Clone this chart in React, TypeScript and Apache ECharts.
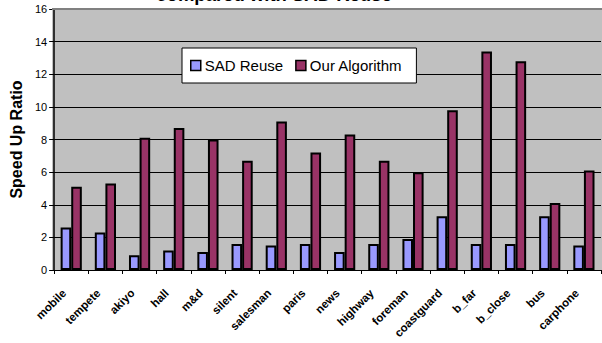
import React, { useEffect, useRef } from "react";
import * as echarts from "echarts";

const categories = [
  "mobile", "tempete", "akiyo", "hall", "m&d", "silent", "salesman", "paris",
  "news", "highway", "foreman", "coastguard", "b_far", "b_close", "bus", "carphone",
];
const sadReuse = [2.6, 2.3, 0.9, 1.2, 1.1, 1.6, 1.5, 1.6, 1.1, 1.6, 1.9, 3.3, 1.6, 1.6, 3.3, 1.5];
const ourAlgorithm = [5.1, 5.3, 8.1, 8.7, 8.0, 6.7, 9.1, 7.2, 8.3, 6.7, 6.0, 9.8, 13.4, 12.8, 4.1, 6.1];
const seriesNames = ["SAD Reuse", "Our Algorithm"];
const titleText = "compared with SAD Reuse";
const yAxisTitle = "Speed Up Ratio";

const FONT = "Arial, 'Liberation Sans', sans-serif";

export default function App() {
  const ref = useRef<HTMLDivElement>(null);

  useEffect(() => {
    document.body.style.margin = "0";
    if (!ref.current) return;
    const chart = echarts.init(ref.current, null, { renderer: "svg" });
    chart.setOption({
      animation: false,
      backgroundColor: "#ffffff",
      grid: { left: 52, right: 1, top: 9, bottom: 73, containLabel: false },
      legend: {
        data: seriesNames,
        left: 182,
        top: 48,
        orient: "horizontal",
        backgroundColor: "#ffffff",
        borderColor: "#000000",
        borderWidth: 1,
        borderRadius: 0,
        padding: [10, 14, 10, 8],
        itemGap: 12,
        itemWidth: 10,
        itemHeight: 10,
        icon: "rect",
        itemStyle: { borderColor: "#000000", borderWidth: 1.5 },
        textStyle: { fontFamily: FONT, fontSize: 15, color: "#000000", padding: [0, 0, 0, -1] },
      },
      xAxis: {
        type: "category",
        data: categories,
        boundaryGap: true,
        axisLine: { show: true, lineStyle: { color: "#000000", width: 1 } },
        axisTick: { show: true, alignWithLabel: false, length: 4, lineStyle: { color: "#000000" } },
        axisLabel: {
          interval: 0,
          rotate: 45,
          margin: 14,
          padding: [0, 10, 0, 0],
          fontFamily: FONT,
          fontSize: 11.5,
          fontWeight: "bold",
          color: "#000000",
        },
        splitLine: { show: false },
      },
      yAxis: {
        type: "value",
        min: 0,
        max: 16,
        interval: 2,
        name: yAxisTitle,
        nameLocation: "middle",
        nameRotate: 90,
        nameGap: 30,
        nameTextStyle: { fontFamily: FONT, fontSize: 16, fontWeight: "bold", color: "#000000" },
        axisLine: { show: true, lineStyle: { color: "#000000", width: 1.5 } },
        axisTick: { show: true, inside: false, length: 5, lineStyle: { color: "#000000" } },
        axisLabel: { fontFamily: FONT, fontSize: 11, color: "#000000", margin: 7 },
        splitLine: { show: true, lineStyle: { color: "#000000", width: 1 } },
      },
      graphic: [
        {
          type: "rect",
          z: -10,
          shape: { x: 52, y: 9, width: 550, height: 261 },
          style: { fill: "#c0c0c0" },
          silent: true,
        },
        {
          type: "line",
          z: 10,
          shape: { x1: 52, y1: 9, x2: 602, y2: 9 },
          style: { stroke: "#808080", lineWidth: 2 },
          silent: true,
        },
        {
          type: "text",
          x: 274,
          y: 4,
          style: {
            text: titleText,
            fontFamily: FONT,
            fontSize: 18.5,
            fontWeight: "bold",
            fill: "#000000",
            align: "center",
            verticalAlign: "bottom",
          },
        },
      ],
      series: [
        {
          name: seriesNames[0],
          type: "bar",
          data: sadReuse,
          barGap: "0%",
          barCategoryGap: "38%",
          itemStyle: { color: "#9999ff", borderColor: "#000000", borderWidth: 2 },
        },
        {
          name: seriesNames[1],
          type: "bar",
          data: ourAlgorithm,
          barGap: "0%",
          barCategoryGap: "38%",
          itemStyle: { color: "#993366", borderColor: "#000000", borderWidth: 2 },
        },
      ],
    });
    return () => chart.dispose();
  }, []);

  return <div ref={ref} style={{ width: 602, height: 343 }} />;
}
